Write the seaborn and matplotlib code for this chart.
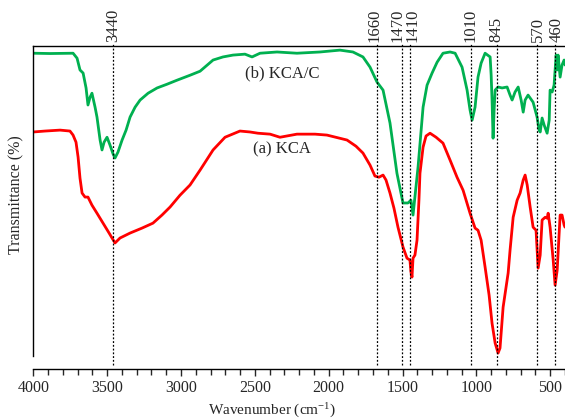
import pandas as pd
import matplotlib
matplotlib.use("Agg")
import matplotlib.pyplot as plt
from matplotlib.ticker import MultipleLocator
from matplotlib.transforms import blended_transform_factory
import seaborn as sns

wn_kcac = [4000, 3887, 3731, 3704, 3684, 3663, 3643, 3630, 3616, 3603, 3582, 3569, 3548, 3535,
           3521, 3501, 3481, 3460, 3447, 3427, 3399, 3372, 3345, 3311, 3277, 3223, 3162, 3095,
           3027, 2939, 2871, 2783, 2716, 2648, 2567, 2519, 2465, 2350, 2215, 2059, 1924, 1836,
           1768, 1720, 1673, 1632, 1585, 1538, 1497, 1463, 1443, 1429, 1395, 1361, 1334, 1300,
           1266, 1226, 1178, 1144, 1097, 1063, 1043, 1029, 1009, 989, 968, 941, 907, 900, 894,
           887, 880, 873, 853, 826, 792, 772, 758, 738, 717, 697, 683, 670, 650, 616, 589, 575,
           568, 555, 541, 521, 507, 501, 487, 474, 460, 453, 447, 433, 420, 406, 400]
t_kcac = [97.7, 97.6, 97.7, 96.1, 92.3, 91.3, 86.5, 81.0, 83.5, 84.8, 80.3, 77.1, 69.7, 66.5,
          69.0, 70.6, 68.1, 65.2, 63.9, 65.8, 69.7, 72.9, 77.1, 80.3, 82.6, 84.8, 86.5, 87.7,
          89.0, 90.6, 91.9, 95.5, 96.5, 97.1, 97.4, 96.5, 97.7, 98.1, 97.7, 98.1, 98.7, 98.1,
          96.5, 93.2, 88.4, 85.8, 75.2, 59.0, 49.4, 49.4, 50.3, 45.5, 61.0, 80.3, 87.4, 91.3,
          94.8, 97.7, 98.1, 97.7, 93.2, 85.8, 79.4, 76.1, 80.3, 90.0, 94.5, 97.7, 96.5, 90.6, 82.6,
          70.3, 79.4, 85.8, 86.8, 86.5, 86.8, 84.2, 82.6, 85.2, 86.8, 82.6, 78.7, 82.6, 84.2, 81.9, 77.1, 72.9,
          72.3, 76.8, 74.5, 71.9, 76.1, 85.8, 85.2, 87.4, 97.1, 92.3, 97.1, 90.0, 93.9, 95.5, 93.9]

wn_kca = [4000, 3921, 3819, 3752, 3731, 3711, 3697, 3684, 3670, 3650, 3630, 3603, 3569, 3528,
          3487, 3447, 3413, 3345, 3264, 3190, 3129, 3074, 3007, 2939, 2871, 2783, 2702, 2601,
          2533, 2479, 2397, 2330, 2215, 2093, 2012, 1876, 1815, 1768, 1720, 1687, 1660, 1632,
          1612, 1585, 1558, 1531, 1497, 1470, 1450, 1443, 1436, 1429, 1416, 1402, 1389, 1382,
          1361, 1341, 1314, 1273, 1226, 1178, 1131, 1090, 1043, 1009, 989, 968, 941, 914, 894,
          873, 853, 840, 819, 785, 772, 751, 724, 704, 683, 670, 656, 636, 616, 596, 582, 568,
          555, 534, 521, 514, 501, 480, 467, 453, 433, 420, 406, 400]
t_kca = [72.3, 72.6, 72.9, 72.6, 71.3, 69.0, 64.2, 57.4, 52.6, 51.3, 51.3, 48.7, 46.1, 42.9,
         39.7, 36.5, 38.1, 39.7, 41.3, 42.9, 45.5, 48.1, 51.9, 55.2, 60.0, 66.5, 70.6, 72.6,
         72.3, 71.9, 71.6, 70.6, 71.6, 71.6, 71.3, 69.7, 67.7, 65.5, 61.6, 58.1, 57.7, 58.4,
         56.8, 52.6, 47.7, 41.6, 35.2, 31.6, 31.0, 27.1, 25.5, 31.6, 32.6, 37.4, 50.3, 59.0,
         67.4, 71.0, 71.9, 70.6, 68.7, 63.2, 57.7, 53.5, 46.1, 41.3, 40.6, 37.4, 28.7, 19.7, 10.6,
         4.2, 1.0, 2.6, 15.8, 26.8, 34.2, 44.8, 50.3, 52.6, 56.8, 58.4, 55.2, 48.1, 41.6, 40.6, 28.4, 32.6,
         43.9, 44.8, 44.5, 46.1, 41.6, 31.0, 22.9, 27.7, 45.5, 45.5, 42.3, 41.6]

# picos marcados: texto, posicion de la linea y de la etiqueta
picos = ["3440", "1660", "1470", "1410", "1010", "845", "570", "460"]
pos_lineas = [3460, 1673, 1504, 1450, 1037, 861, 590, 468]
pos_etiquetas = [3460, 1687, 1537, 1435, 1037, 865, 585, 455]

df_b = pd.DataFrame({"Wavenumber": wn_kcac, "T": t_kcac})
df_a = pd.DataFrame({"Wavenumber": wn_kca, "T": t_kca})

# ------------------------------------- grafico ---------------------------------------

sns.set_style("ticks")
plt.rcParams["font.family"] = ["Liberation Serif", "DejaVu Serif"]
plt.rcParams["mathtext.fontset"] = "stix"

fig = plt.figure(figsize=(5.65, 4.19), dpi=100)
ax = fig.add_axes([0.059, 0.150, 0.941, 0.740])

sns.lineplot(data=df_b, x="Wavenumber", y="T", color="#00B050", lw=2, sort=False, estimator=None, ax=ax)
sns.lineplot(data=df_a, x="Wavenumber", y="T", color="#FF0000", lw=2, sort=False, estimator=None, ax=ax)

ax.set_xlim(4000, 400)
ax.set_ylim(0, 100)

tr = blended_transform_factory(ax.transData, ax.transAxes)
for xl, xe, txt in zip(pos_lineas, pos_etiquetas, picos):
    ax.axvline(xl, ymin=-0.029, ymax=1.01, color="black", ls=(0, (1.5, 1.5)), lw=0.9, clip_on=False)
    ax.text(xe, 1.012, txt, transform=tr, rotation=90, ha="center", va="bottom", fontsize=12)

ax.text(2316, 91.3, "(b) KCA/C", ha="center", va="center", fontsize=12)
ax.text(2316, 66.8, "(a) KCA", ha="center", va="center", fontsize=12)

ax.spines["right"].set_visible(False)
ax.spines["bottom"].set_position(("outward", 9))
for s in ["left", "top", "bottom"]:
    ax.spines[s].set_linewidth(1.0)
    ax.spines[s].set_color("black")

ax.xaxis.set_major_locator(MultipleLocator(500))
ax.xaxis.set_minor_locator(MultipleLocator(100))
ax.tick_params(axis="x", which="major", direction="out", length=5, width=1, labelsize=11.5, top=False)
ax.tick_params(axis="x", which="minor", direction="out", length=4, width=1, top=False)
ax.set_yticks([])

ax.set_xlabel("Wavenumber (cm$^{\\mathregular{-1}}$)", fontsize=11)
ax.set_ylabel("Transmittance (%)", fontsize=11.5)
ax.xaxis.set_label_coords(0.45, -0.142)
ax.yaxis.set_label_coords(-0.016, 0.52)

fig.savefig("out.png", dpi=100)
